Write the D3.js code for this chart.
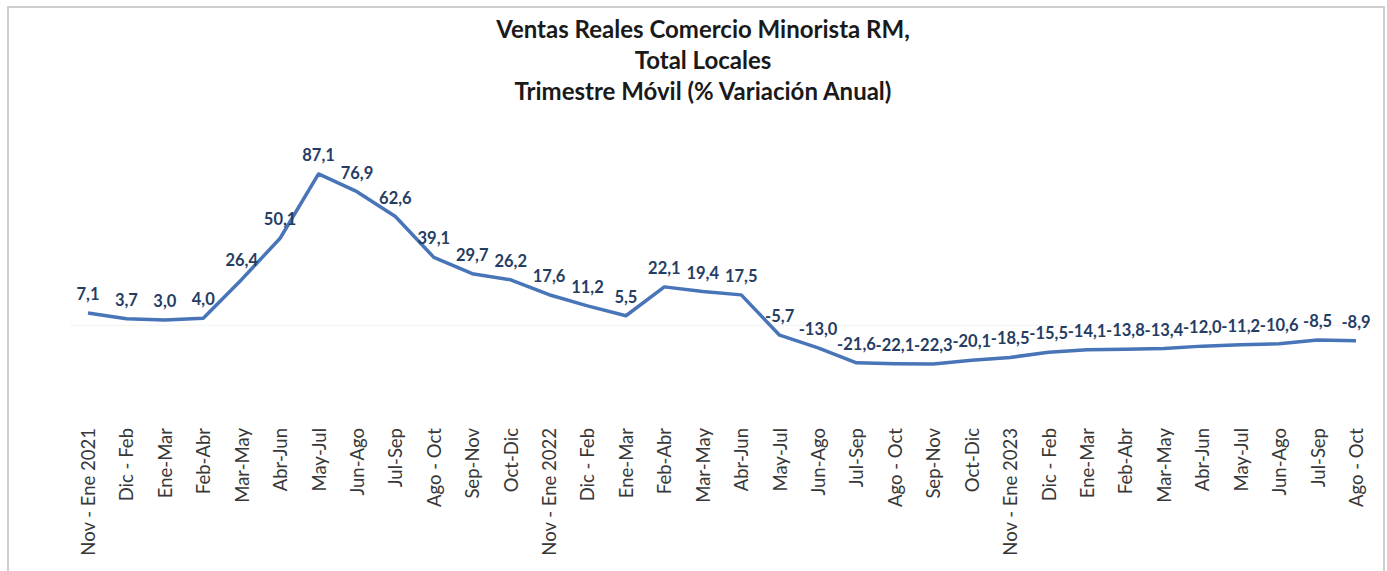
<!DOCTYPE html>
<html>
<head>
<meta charset="utf-8">
<script src="https://cdn.jsdelivr.net/npm/d3@7"></script>
<style>
  html, body { margin: 0; padding: 0; background: #fff; }
  svg { display: block; }
</style>
</head>
<body>
<div id="chart"></div>
<script>
// Trimestres móviles (eje X)
const periods = [
    'Nov - Ene 2021', 'Dic - Feb', 'Ene-Mar', 'Feb-Abr', 'Mar-May', 'Abr-Jun',
    'May-Jul', 'Jun-Ago', 'Jul-Sep', 'Ago - Oct', 'Sep-Nov', 'Oct-Dic',
    'Nov - Ene 2022', 'Dic - Feb', 'Ene-Mar', 'Feb-Abr', 'Mar-May', 'Abr-Jun',
    'May-Jul', 'Jun-Ago', 'Jul-Sep', 'Ago - Oct', 'Sep-Nov', 'Oct-Dic',
    'Nov - Ene 2023', 'Dic - Feb', 'Ene-Mar', 'Feb-Abr', 'Mar-May', 'Abr-Jun',
    'May-Jul', 'Jun-Ago', 'Jul-Sep', 'Ago - Oct'
];

// % variación anual
const values = [
    7.1, 3.7, 3.0, 4.0, 26.4, 50.1, 87.1, 76.9, 62.6, 39.1, 29.7, 26.2,
    17.6, 11.2, 5.5, 22.1, 19.4, 17.5, -5.7, -13.0, -21.6, -22.1, -22.3, -20.1,
    -18.5, -15.5, -14.1, -13.8, -13.4, -12.0, -11.2, -10.6, -8.5, -8.9
];

const titleLines = [
    'Ventas Reales Comercio Minorista RM,',
    'Total Locales',
    'Trimestre Móvil (% Variación Anual)'
];

const width = 1387;
const height = 571;
const font = 'Lato, "Open Sans", sans-serif';

const svg = d3.select('#chart').append('svg')
    .attr('width', width)
    .attr('height', height);

// Chart frame
svg.append('rect')
    .attr('x', 8)
    .attr('y', 7)
    .attr('width', 1376)
    .attr('height', 620)
    .attr('fill', 'none')
    .attr('stroke', '#cfcfcf')
    .attr('stroke-width', 2);

// Title
const title = svg.append('text')
    .attr('text-anchor', 'middle')
    .attr('font-family', font)
    .attr('font-weight', 700)
    .attr('font-size', '24px')
    .attr('fill', '#1a1a1a');

titleLines.forEach((line, i) => {
    title.append('tspan')
        .attr('x', 703)
        .attr('y', 38 + i * 31)
        .text(line);
});

// Scales
const x = d3.scalePoint()
    .domain(d3.range(periods.length))
    .range([88, 1356]);

const y = d3.scaleLinear()
    .domain([-30, 100])
    .range([377.4, 151.55]);

// Faint zero line
svg.append('line')
    .attr('x1', 70)
    .attr('x2', 1375)
    .attr('y1', y(0))
    .attr('y2', y(0))
    .attr('stroke', '#f2f2f2')
    .attr('stroke-width', 1);

// X axis labels (rotated)
const xAxis = d3.axisBottom(x)
    .tickSize(0)
    .tickFormat(i => periods[i]);

const axisG = svg.append('g')
    .attr('transform', 'translate(0,428)')
    .call(xAxis);

axisG.select('.domain').remove();
axisG.selectAll('text')
    .attr('font-family', font)
    .attr('font-size', '18.5px')
    .attr('fill', '#383838')
    .attr('text-anchor', 'end')
    .attr('transform', 'rotate(-90)')
    .attr('x', 0)
    .attr('y', 0)
    .attr('dy', '0.35em');

// Line
const line = d3.line()
    .x((d, i) => x(i))
    .y(d => y(d));

svg.append('path')
    .datum(values)
    .attr('d', line)
    .attr('fill', 'none')
    .attr('stroke', '#4874b8')
    .attr('stroke-width', 3.5)
    .attr('stroke-linejoin', 'round');

// Data labels
const fmt = v => v.toFixed(1).replace('.', ',');

svg.append('g')
    .selectAll('text')
    .data(values)
    .join('text')
    .attr('x', (d, i) => x(i))
    .attr('y', d => y(d) - 13)
    .attr('text-anchor', 'middle')
    .attr('font-family', font)
    .attr('font-weight', 700)
    .attr('font-size', '16.5px')
    .attr('fill', '#263d63')
    .text(fmt);
</script>
</body>
</html>
